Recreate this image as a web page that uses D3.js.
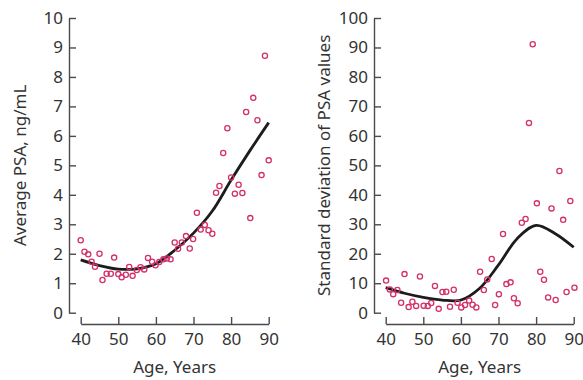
<!DOCTYPE html>
<html>
<head>
<meta charset="utf-8">
<script src="https://cdn.jsdelivr.net/npm/d3@7"></script>
<style>
  body { margin: 0; background: #fff; }
  svg text { font-family: "Noto Sans", sans-serif; fill: #333; }
</style>
</head>
<body>
<div id="chart"></div>
<script>
// 1. Data
const xTicks = [40, 50, 60, 70, 80, 90];
const psaTicks = [0, 1, 2, 3, 4, 5, 6, 7, 8, 9, 10];
const sdTicks = [0, 10, 20, 30, 40, 50, 60, 70, 80, 90, 100];

// average PSA by age (scatter)
const psaAge = [40, 41, 42, 42.9, 43.8, 45, 45.8, 46.9, 48, 48.9, 50, 50.9, 52, 52.9, 53.8,
  54.9, 55.9, 56.9, 57.9, 59, 59.9, 60.9, 62, 62.9, 63.9, 65, 65.9, 66.9, 68, 69, 69.9,
  70.9, 71.9, 73, 74, 75, 76, 76.9, 77.9, 79, 80, 81, 82, 83, 84, 85.1, 85.9, 87, 88.1, 89, 90];
const psaMean = [2.46, 2.07, 1.98, 1.73, 1.56, 2.0, 1.11, 1.32, 1.32, 1.87, 1.31, 1.2, 1.29, 1.55, 1.25,
  1.45, 1.54, 1.47, 1.86, 1.73, 1.61, 1.72, 1.81, 1.84, 1.81, 2.38, 2.17, 2.38, 2.6, 2.18, 2.5,
  3.39, 2.82, 2.98, 2.8, 2.68, 4.07, 4.3, 5.42, 6.26, 4.59, 4.04, 4.34, 4.06, 6.81, 3.21, 7.29, 6.53, 4.67, 8.72, 5.17];

// fitted curve for average PSA
const psaFitAge = [40, 45, 50, 55, 60, 65, 70, 75, 80, 85, 90];
const psaFit = [1.79, 1.6, 1.48, 1.49, 1.66, 2.12, 2.7, 3.45, 4.5, 5.5, 6.45];

// standard deviation of PSA by age (scatter)
const sdAge = [40.1, 41.1, 42, 43.1, 44.1, 45, 46.1, 47.1, 48.1, 49.1, 50.1, 51.2, 52.1, 53.1, 54.1,
  55.1, 56.1, 57.1, 58.1, 59.1, 60.1, 61.1, 62.2, 63.1, 64.1, 65.1, 66.1, 67, 68.2, 69.1, 70.1,
  71.2, 72.1, 73.2, 74.1, 75.1, 76.2, 77.2, 78.1, 79.1, 80.2, 81.1, 82.1, 83.2, 84.1, 85.2, 86.2,
  87.2, 88.1, 89.1, 90.2];
const sdValue = [10.9, 7.9, 6.3, 7.7, 3.4, 13.1, 1.9, 3.7, 2.3, 12.3, 2.4, 2.3, 3.3, 9.1, 1.3,
  7.0, 7.1, 2.0, 7.8, 3.4, 1.8, 2.6, 4.1, 2.7, 1.8, 13.9, 7.7, 11.3, 18.2, 2.6, 6.3,
  26.7, 9.7, 10.3, 4.9, 3.2, 30.5, 31.8, 64.4, 91.1, 37.1, 13.9, 11.2, 5.2, 35.4, 4.3, 48.1,
  31.5, 7.0, 37.9, 8.5];

// fitted curve for SD
const sdFitAge = [40, 45, 50, 55, 60, 65, 70, 75, 80, 85, 90];
const sdFit = [8.5, 6.6, 5.2, 4.3, 4.3, 8.3, 16.2, 25.2, 29.6, 26.9, 22.2];

// 2. Dimensions
const dims = { width: 583, height: 380, top: 18, bottom: 312.7, xAxisY: 324 };
const panels = [
  {
    yAxisX: 69, xLeft: 80.7, xRight: 268.7, labelX: 26,
    yDomain: [0, 10], yTicks: psaTicks, label: "Average PSA, ng/mL",
    ages: psaAge, values: psaMean, fitAges: psaFitAge, fit: psaFit,
  },
  {
    yAxisX: 374, xLeft: 385.7, xRight: 573.7, labelX: 329.5,
    yDomain: [0, 100], yTicks: sdTicks, label: "Standard deviation of PSA values",
    ages: sdAge, values: sdValue, fitAges: sdFitAge, fit: sdFit,
  },
];

// 3. Container
const svg = d3.select("#chart")
  .append("svg")
  .attr("width", dims.width)
  .attr("height", dims.height);

const axisColor = "#4a4a4a";
const dotColor = "#d3306b";

panels.forEach((p) => {
  const g = svg.append("g");

  // 4. Scales
  const xScale = d3.scaleLinear().domain([40, 90]).range([p.xLeft, p.xRight]);
  const yScale = d3.scaleLinear().domain(p.yDomain).range([dims.bottom, dims.top]);

  // 5. Axes
  const yAxis = g.append("g")
    .attr("transform", `translate(${p.yAxisX},0)`)
    .call(d3.axisLeft(yScale).tickValues(p.yTicks).tickSizeInner(-7).tickSizeOuter(0).tickPadding(6));

  const xAxis = g.append("g")
    .attr("transform", `translate(0,${dims.xAxisY})`)
    .call(d3.axisBottom(xScale).tickValues(xTicks).tickSizeInner(-7).tickSizeOuter(0).tickPadding(9));

  [yAxis, xAxis].forEach((ax) => {
    ax.select(".domain").attr("stroke", axisColor).attr("stroke-width", 1.4);
    ax.selectAll(".tick line").attr("stroke", axisColor).attr("stroke-width", 1.4);
    ax.selectAll(".tick text")
      .attr("fill", "#333")
      .style("font-family", '"Noto Sans", sans-serif')
      .style("font-size", "17px");
  });

  g.append("text")
    .attr("x", (p.xLeft + p.xRight) / 2)
    .attr("y", 373)
    .attr("text-anchor", "middle")
    .style("font-size", "17px")
    .text("Age, Years");

  g.append("text")
    .attr("transform", `translate(${p.labelX},${(dims.top + dims.bottom) / 2}) rotate(-90)`)
    .attr("text-anchor", "middle")
    .style("font-size", "17px")
    .text(p.label);

  // 6. Draw
  const line = d3.line()
    .x((d, i) => xScale(p.fitAges[i]))
    .y((d) => yScale(d))
    .curve(d3.curveCatmullRom.alpha(0.5));

  g.append("path")
    .datum(p.fit)
    .attr("d", line)
    .attr("fill", "none")
    .attr("stroke", "#1c1c1c")
    .attr("stroke-width", 2.8);

  g.selectAll("circle")
    .data(p.values)
    .join("circle")
    .attr("cx", (d, i) => xScale(p.ages[i]))
    .attr("cy", (d) => yScale(d))
    .attr("r", 2.6)
    .attr("fill", "none")
    .attr("stroke", dotColor)
    .attr("stroke-width", 1.3);
});
</script>
</body>
</html>
